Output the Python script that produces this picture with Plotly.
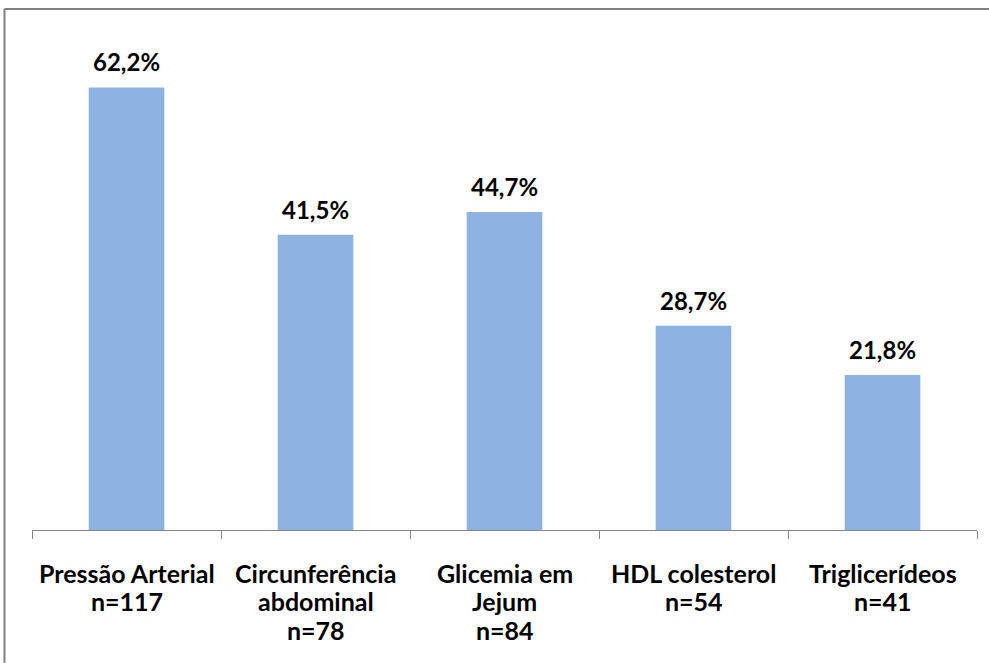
import plotly.graph_objects as go

# Prevalence of each altered component of the metabolic syndrome
components = [
    "Pressão Arterial\nn=117",
    "Circunferência\nabdominal\nn=78",
    "Glicemia em\nJejum\nn=84",
    "HDL colesterol\nn=54",
    "Triglicerídeos\nn=41",
]
prevalence = [62.2, 41.5, 44.7, 28.7, 21.8]
value_labels = ["62,2%", "41,5%", "44,7%", "28,7%", "21,8%"]

BAR_COLOR = "#8DB3E2"
FONT = "Lato"

W, H = 989, 663
M_LEFT, M_RIGHT, M_TOP, M_BOTTOM = 32, 12, 31.5, 133
plot_w = W - M_LEFT - M_RIGHT
plot_h = H - M_TOP - M_BOTTOM

fig = go.Figure(
    go.Bar(
        x=list(range(len(components))),
        y=prevalence,
        marker=dict(color=BAR_COLOR, line=dict(width=0)),
        hoverinfo="skip",
    )
)

annotations = []
# value labels above each bar
for i, (v, lab) in enumerate(zip(prevalence, value_labels)):
    annotations.append(dict(
        x=i, y=v, xref="x", yref="y", text=f"<b>{lab}</b>",
        showarrow=False, yanchor="bottom", yshift=9,
        font=dict(family=FONT, size=24, color="#000000"),
    ))

# category labels under the axis, one annotation per line
line_gap = 28.5
first_line = 43  # px below the axis line
for i, name in enumerate(components):
    for k, line in enumerate(name.split("\n")):
        offset_px = first_line + k * line_gap
        annotations.append(dict(
            x=i, y=-offset_px / plot_h, xref="x", yref="paper",
            text=f"<b>{line}</b>", showarrow=False,
            xanchor="center", yanchor="middle",
            font=dict(family=FONT, size=25, color="#000000"),
        ))

# outer frame: top and left edges of the surrounding box
frame_left = (4.5 - M_LEFT) / plot_w
frame_top = (H - M_BOTTOM - 8.5) / plot_h
frame_style = dict(color="#808080", width=2)
fig.add_shape(type="line", xref="paper", yref="paper",
              x0=frame_left, x1=(W - M_LEFT) / plot_w,
              y0=frame_top, y1=frame_top, line=frame_style)
fig.add_shape(type="line", xref="paper", yref="paper",
              x0=frame_left, x1=frame_left,
              y0=-M_BOTTOM / plot_h, y1=frame_top, line=frame_style)

fig.update_layout(
    width=W, height=H,
    margin=dict(l=M_LEFT, r=M_RIGHT, t=M_TOP, b=M_BOTTOM, pad=0),
    paper_bgcolor="white", plot_bgcolor="white",
    showlegend=False,
    bargap=0.6,
    annotations=annotations,
    xaxis=dict(
        range=[-0.5, len(components) - 0.5],
        tickmode="array",
        tickvals=[i - 0.5 for i in range(len(components) + 1)],
        ticktext=[""] * (len(components) + 1),
        ticks="outside", ticklen=8, tickcolor="#868686", tickwidth=1,
        showline=True, linecolor="#868686", linewidth=1,
        showgrid=False, zeroline=False, fixedrange=True,
    ),
    yaxis=dict(
        range=[0, 70], visible=False, showgrid=False, zeroline=False,
        fixedrange=True,
    ),
)

fig.write_html("out.html")
